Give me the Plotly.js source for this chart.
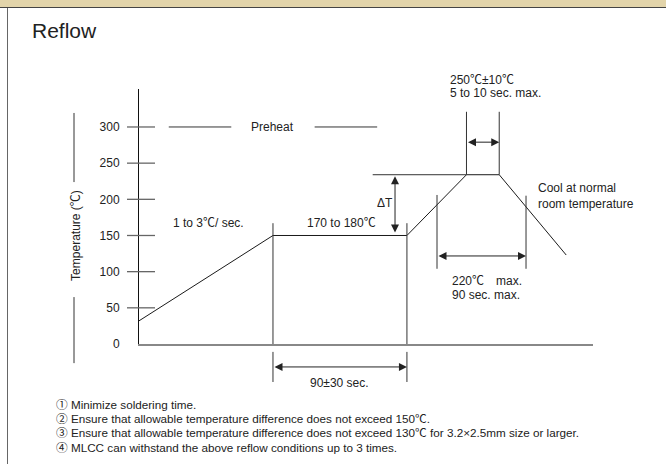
<!DOCTYPE html>
<html>
<head>
<meta charset="utf-8">
<script src="https://cdn.plot.ly/plotly-3.0.1.min.js"></script>
<style>
  html, body { margin: 0; padding: 0; background: #fff; overflow: hidden; }
  #wrap { position: relative; width: 666px; height: 464px; }
  #chart { position: absolute; left: 0; top: 0; width: 666px; height: 464px; }
  #band { position: absolute; left: 0; top: 0; width: 666px; height: 7px; background: #e2d4aa; border-bottom: 1px solid #444; z-index: 5; }
  #lborder { position: absolute; left: 7px; top: 8px; width: 1px; height: 456px; background: #666; z-index: 5; }
</style>
</head>
<body>
<div id="wrap">
  <div id="chart"></div>
  <div id="band"></div>
  <div id="lborder"></div>
</div>
<script>
// ---- data ----
const timeSec = [0, 90, 180, 220, 242, 287];       // schematic time positions
const tempC   = [32, 150, 150, 234, 234, 123];     // profile temperatures
const yTickVals = [0, 50, 100, 150, 200, 250, 300];
const yTickText = ['0', '50', '100', '150', '200', '250', '300'];
const tickMarkVals = [50, 100, 150, 200, 250, 300];
const titleText = 'Reflow';
const yTitle = 'Temperature (℃)';
const preheatLabel = 'Preheat';
const rampLabel = '1 to 3℃/ sec.';
const soakLabel = '170 to 180℃';
const deltaLabel = 'ΔT';
const peakLabels = ['250℃±10℃', '5 to 10 sec. max.'];
const coolLabels = ['Cool at normal', 'room temperature'];
const above220Labels = ['220℃　max.', '90 sec. max.'];
const soakTimeLabel = '90±30 sec.';
const notes = [
  '① Minimize soldering time.',
  '② Ensure that allowable temperature difference does not exceed 150℃.',
  '③ Ensure that allowable temperature difference does not exceed 130℃ for 3.2×2.5mm size or larger.',
  '④ MLCC can withstand the above reflow conditions up to 3 times.'
];

// ---- figure ----
const FONT = 'Liberation Sans, Arial, Noto Sans CJK JP, sans-serif';
const TXT = '#222';
const LINE = '#333';
const W = 666, H = 464;
const M = {l: 139, r: 73, t: 89, b: 120};
const plotW = W - M.l - M.r, plotH = H - M.t - M.b;

// key profile points
const tPreStart = timeSec[1], tPreEnd = timeSec[2];
const tPeakStart = timeSec[3], tPeakEnd = timeSec[4];
const tPeak = tempC[3], tPre = tempC[1];

const shapes = [];
function seg(x0, y0, x1, y1, opts) {
  shapes.push(Object.assign({type: 'line', xref: 'x', yref: 'y', x0, y0, x1, y1,
    line: {color: LINE, width: 1}}, opts || {}));
}
// y tick marks crossing the axis
tickMarkVals.forEach(v => shapes.push({type: 'line', xref: 'paper', yref: 'y',
  x0: -12 / plotW, x1: 16 / plotW, y0: v, y1: v, line: {color: '#666', width: 1.3}}));
// preheat dashes at 300
seg(20, 300, 62, 300);
seg(118, 300, 160, 300);
// preheat verticals
seg(tPreStart, 0, tPreStart, 167);
seg(tPreEnd, 0, tPreEnd, 167);
shapes.push({type: 'line', xref: 'x', yref: 'paper', x0: tPreStart, x1: tPreStart, y0: -0.031, y1: -0.149, line: {color: LINE, width: 1}});
shapes.push({type: 'line', xref: 'x', yref: 'paper', x0: tPreEnd, x1: tPreEnd, y0: -0.031, y1: -0.149, line: {color: LINE, width: 1}});
// delta T reference line at peak level
seg(157, tPeak, tPeakStart, tPeak);
// peak verticals
seg(tPeakStart, tPeak, tPeakStart, 321);
seg(tPeakEnd, tPeak, tPeakEnd, 321);
// 220 verticals
seg(200.2, 104, 200.2, 206);
seg(260, 104, 260, 205);
// axis title side lines
shapes.push({type: 'line', xref: 'paper', yref: 'paper', x0: -65 / plotW, x1: -65 / plotW, y0: 0.906, y1: 0.635, line: {color: LINE, width: 1}});
shapes.push({type: 'line', xref: 'paper', yref: 'paper', x0: -65 / plotW, x1: -65 / plotW, y0: 0.184, y1: -0.075, line: {color: LINE, width: 1}});

const ann = [];
function txt(text, x, y, o) {
  ann.push(Object.assign({text, x, y, xref: 'x', yref: 'y', showarrow: false,
    font: {family: FONT, size: 12, color: TXT}, xanchor: 'center', yanchor: 'middle'}, o || {}));
}
function dbl(x, y, ax, ay, o) {
  ann.push(Object.assign({x, y, ax, ay, xref: 'x', yref: 'y', axref: 'x', ayref: 'y', text: '',
    showarrow: true, arrowhead: 2, arrowside: 'end+start', arrowsize: 1.6, arrowwidth: 1,
    arrowcolor: '#222', standoff: 0, startstandoff: 0}, o || {}));
}
txt(preheatLabel, 90, 300);
txt(rampLabel, 46.7, 167);
txt(soakLabel, 136, 167);
txt(deltaLabel, 165.3, 195);
txt(peakLabels[0], 207.6, 1.035, {yref: 'paper', xanchor: 'left'});
txt(peakLabels[1], 207.6, 0.984, {yref: 'paper', xanchor: 'left'});
txt(coolLabels[0], 267, 215, {xanchor: 'left'});
txt(coolLabels[1], 267, 194, {xanchor: 'left'});
txt(above220Labels[0], 209, 87, {xanchor: 'left'});
txt(above220Labels[1], 209, 68, {xanchor: 'left'});
txt(soakTimeLabel, 135, -0.153, {yref: 'paper'});
txt(yTitle, -63 / plotW, 0.424, {xref: 'paper', yref: 'paper', textangle: -90});
notes.forEach((n, i) => txt(n, -85 / plotW, -0.239 - i * 0.055,
  {xref: 'paper', yref: 'paper', xanchor: 'left', font: {family: FONT, size: 11.7, color: TXT}}));

// arrows
dbl(tPreEnd, -0.090, tPreStart, 0, {yref: 'paper', ayref: 'pixel'});
dbl(172, 154, 172, tPeak);
dbl(tPeakEnd, 279, tPeakStart, 279);
dbl(260, 121.7, 200.2, 121.7);

const traces = [{
  type: 'scatter', mode: 'lines', x: timeSec, y: tempC,
  line: {color: '#1a1a1a', width: 1}, hoverinfo: 'skip', showlegend: false
}];

const layout = {
  width: W, height: H, margin: M,
  paper_bgcolor: 'rgba(0,0,0,0)', plot_bgcolor: 'rgba(0,0,0,0)',
  showlegend: false,
  title: {text: titleText, x: 32 / W, xanchor: 'left', y: 1 - 31 / H, yanchor: 'middle',
    font: {family: FONT, size: 21, color: TXT}},
  xaxis: {range: [0, 305], showgrid: false, zeroline: false, showticklabels: false,
    ticks: '', showline: true, linecolor: '#888', linewidth: 1.5, fixedrange: true},
  yaxis: {range: [0, 352.5], showgrid: false, zeroline: false, tickmode: 'array',
    tickvals: yTickVals, ticktext: yTickText, ticks: 'outside', ticklen: 12,
    tickcolor: 'rgba(0,0,0,0)', ticklabelstandoff: 4,
    tickfont: {family: FONT, size: 12, color: TXT},
    showline: true, linecolor: '#111', linewidth: 1, fixedrange: true},
  shapes: shapes, annotations: ann
};
Plotly.newPlot('chart', traces, layout, {staticPlot: true, displayModeBar: false});
</script>
</body>
</html>
